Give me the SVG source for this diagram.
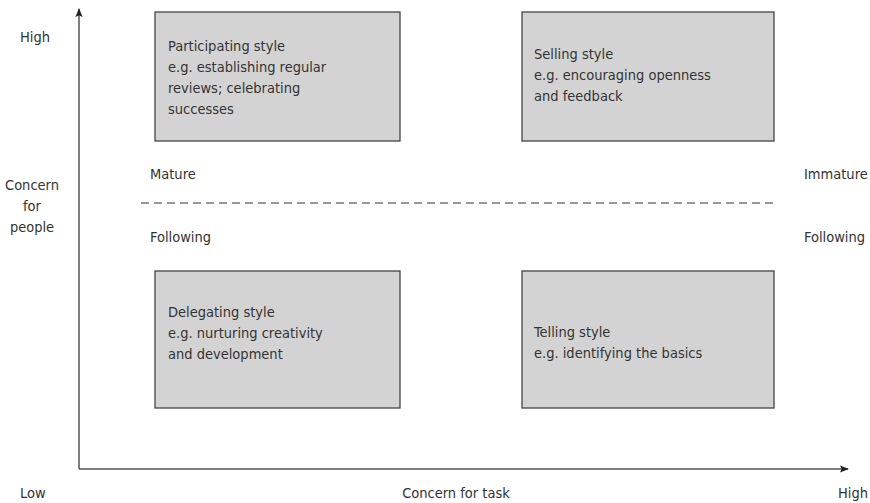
<svg xmlns="http://www.w3.org/2000/svg" width="870" height="503" viewBox="0 0 870 503">
<defs>
<style>
text{font-family:"Liberation Sans Narrow","DejaVu Sans Condensed","Liberation Sans",sans-serif;font-size:14.5px;fill:#333;font-stretch:condensed}
.box{fill:#d3d3d3;stroke:#444;stroke-width:1.3}
.axis{stroke:#555;stroke-width:1.5;fill:none}
.dash{stroke:#777;stroke-width:1.3;stroke-dasharray:8 5;fill:none}
</style>
<marker id="ah" viewBox="0 0 10 10" refX="9" refY="5" markerWidth="9" markerHeight="9" markerUnits="userSpaceOnUse" orient="auto">
<path d="M0,1 L10,5 L0,9 L2,5 Z" fill="#222"/>
</marker>
</defs>
<rect width="870" height="503" fill="#fff"/>
<g id="connectors">
<path class="axis" d="M79,469 L79,9" marker-end="url(#ah)"/>
<path class="axis" d="M79,469 L848,469" marker-end="url(#ah)"/>
<path class="dash" d="M141,203 L774,203"/>
</g>
<g id="participating">
<rect class="box" x="155" y="12" width="245" height="129"/>
<text x="168" y="51">Participating style</text>
<text x="168" y="72">e.g. establishing regular</text>
<text x="168" y="93">reviews; celebrating</text>
<text x="168" y="114">successes</text>
</g>
<g id="selling">
<rect class="box" x="522" y="12" width="252" height="129"/>
<text x="534" y="59">Selling style</text>
<text x="534" y="80">e.g. encouraging openness</text>
<text x="534" y="101">and feedback</text>
</g>
<g id="delegating">
<rect class="box" x="155" y="271" width="245" height="137"/>
<text x="168" y="317">Delegating style</text>
<text x="168" y="338">e.g. nurturing creativity</text>
<text x="168" y="359">and development</text>
</g>
<g id="telling">
<rect class="box" x="522" y="271" width="252" height="137"/>
<text x="534" y="337">Telling style</text>
<text x="534" y="358">e.g. identifying the basics</text>
</g>
<g id="labels">
<text x="20" y="42">High</text>
<text x="32" y="190" text-anchor="middle">Concern</text>
<text x="32" y="211" text-anchor="middle">for</text>
<text x="32" y="232" text-anchor="middle">people</text>
<text x="150" y="179">Mature</text>
<text x="150" y="242">Following</text>
<text x="804" y="179">Immature</text>
<text x="804" y="242">Following</text>
<text x="20" y="498">Low</text>
<text x="456" y="498" text-anchor="middle">Concern for task</text>
<text x="868" y="498" text-anchor="end">High</text>
</g>
</svg>
